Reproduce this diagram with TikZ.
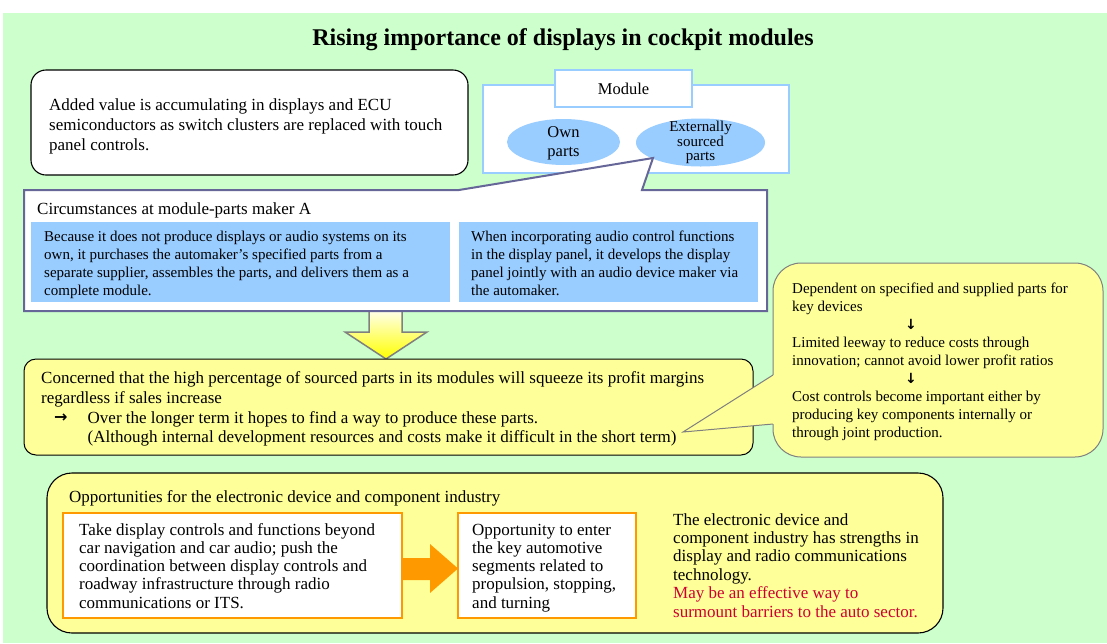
\documentclass[tikz,border=0pt]{standalone}
\usepackage{fontspec}
\setmainfont{Liberation Serif}
\newfontfamily\symfont{DejaVu Sans}
\usetikzlibrary{shapes.geometric}

\definecolor{bggreen}{HTML}{CCFFCC}
\definecolor{skyblue}{HTML}{99CCFF}
\definecolor{paleyellow}{HTML}{FFFF99}
\definecolor{boxorange}{HTML}{FF9900}
\definecolor{slate}{HTML}{666699}
\definecolor{edgegray}{HTML}{808080}
\definecolor{alertred}{HTML}{CC0033}
\definecolor{lightyellow}{HTML}{FFFFE8}
\definecolor{brightyellow}{HTML}{FFFF00}

% multi-line text whose baseline is that of its first line
\newcommand\lines[1]{\begin{tabular}[t]{@{}l@{}}#1\end{tabular}}
\newcommand\clines[1]{\begin{tabular}{@{}c@{}}#1\end{tabular}}
% heavy short arrow pointing down, used between steps
\newcommand\stepdown{\hspace*{113pt}{\symfont\bfseries\fontsize{14}{18}\selectfont ↓}}

\begin{document}
\begin{tikzpicture}[x=1pt,y=-1pt,
  txt/.style={inner sep=0pt, anchor=base west, font=\fontsize{17}{20}\selectfont},
  smalltxt/.style={inner sep=0pt, anchor=base west, font=\fontsize{15}{18}\selectfont},
  panel/.style={anchor=north west, inner sep=0pt, outer sep=0pt},
  blockarrow/.style={top color=lightyellow, bottom color=brightyellow, draw=edgegray, line width=1.5pt}
]
\useasboundingbox (0,0) rectangle (1107,643);
\fill[white] (0,0) rectangle (1107,643);
\fill[bggreen] (3,13) rectangle (1107,643);

% title
\node[anchor=base, inner sep=0pt, font=\fontsize{24}{28}\selectfont\bfseries] (title) at (563,45)
  {Rising importance of displays in cockpit modules};

% added-value statement
\node[panel, draw=black, line width=1.1pt, fill=white, rounded corners=15pt,
  minimum width=437pt, minimum height=105pt] (value) at (31,70) {};
\node[txt] (valuetext) at (49,110) {\lines{Added value is accumulating in displays and ECU\\
  semiconductors as switch clusters are replaced with touch\\panel controls.}};

% module composition
\node[panel, draw=skyblue, line width=1.2pt, fill=white, minimum width=306pt, minimum height=88pt] (module) at (483,85) {};
\node[draw=skyblue, line width=1.2pt, fill=white, inner sep=0pt, minimum width=137pt, minimum height=37pt,
  font=\fontsize{16.5}{19}\selectfont] (modlabel) at (623.5,88.5) {Module};
\node[ellipse, fill=skyblue, inner sep=0pt, minimum width=113pt, minimum height=46pt,
  font=\fontsize{16.5}{19}\selectfont] (own) at (563.5,142) {};
\node[inner sep=0pt, font=\fontsize{16.5}{19}\selectfont] (owntext) at (563.5,143.5) {\clines{Own\\parts}};
\node[ellipse, fill=skyblue, inner sep=0pt, minimum width=129pt, minimum height=48pt] (ext) at (700.5,142.5) {};
\node[inner sep=0pt, font=\fontsize{15}{14}\selectfont] (exttext) at (700.5,143) {\clines{Externally\\sourced\\parts}};

% block arrow down to the concern
\coordinate (downtip) at (386,359);
\shade[blockarrow] (369,311) -- (402,311) -- (402,332) -- (427,332) -- (downtip) -- (345,332) -- (369,332) -- cycle;

% circumstances callout
\node[panel, minimum width=743pt, minimum height=121pt] (circ) at (24,190) {};
\coordinate (circtip) at (653,158);
\draw[fill=white, draw=slate, line width=2pt, line join=miter]
  (circ.north west) -- (459,190) -- (circtip) -- (642,190) -- (circ.north east)
  -- (circ.south east) -- (circ.south west) -- cycle;
\node[txt] (circhead) at (37,214) {Circumstances at module-parts maker A};
\node[panel, fill=skyblue, minimum width=419pt, minimum height=80pt] (blueA) at (31,222) {};
\node[panel, fill=skyblue, minimum width=299pt, minimum height=80pt] (blueB) at (459,222) {};
\node[smalltxt] (blueAtext) at (44,241) {\lines{Because it does not produce displays or audio systems on its\\
  own, it purchases the automaker’s specified parts from a\\
  separate supplier, assembles the parts, and delivers them as a\\complete module.}};
\node[smalltxt] (blueBtext) at (471,241) {\lines{When incorporating audio control functions\\
  in the display panel, it develops the display\\
  panel jointly with an audio device maker via\\the automaker.}};

% concern
\node[panel, draw=black, line width=1pt, fill=paleyellow, rounded corners=12pt,
  minimum width=729pt, minimum height=96pt] (concern) at (24,359) {};
\node[txt] (concerntext) at (41,383) {\lines{Concerned that the high percentage of sourced parts in its modules will squeeze its profit margins\\
  regardless if sales increase}};
\node[txt, font=\fontsize{16}{18}\selectfont\symfont\bfseries] (concernarrow) at (54,422) {→};
\node[txt, font=\fontsize{17}{19.5}\selectfont] (hopetext) at (87.5,423) {\lines{Over the longer term it hopes to find a way to produce these parts.\\
  (Although internal development resources and costs make it difficult in the short term)}};

% dependence callout
\node[panel, draw=edgegray, line width=1pt, fill=paleyellow, rounded corners=28pt,
  minimum width=330pt, minimum height=194pt] (dep) at (773,263) {};
\coordinate (deptip) at (683,432);
\fill[paleyellow] (deptip) -- (773,375) -- (775,375) -- (775,424) -- (773,424) -- cycle;
\draw[edgegray, line width=1pt] (773,375) -- (deptip) -- (773,424);
\node[smalltxt] (deptext) at (792,293) {\lines{Dependent on specified and supplied parts for\\
  key devices\\
  \stepdown\\
  Limited leeway to reduce costs through\\
  innovation; cannot avoid lower profit ratios\\
  \stepdown\\
  Cost controls become important either by\\
  producing key components internally or\\
  through joint production.}};

% opportunities
\node[panel, draw=black, line width=1.1pt, fill=paleyellow, rounded corners=25pt,
  minimum width=896pt, minimum height=160pt] (opp) at (47,473) {};
\node[txt] (opphead) at (69,502) {Opportunities for the electronic device and component industry};
\node[panel, draw=boxorange, line width=2pt, fill=white, minimum width=339pt, minimum height=105pt] (take) at (63,513) {};
\node[panel, draw=boxorange, line width=2pt, fill=white, minimum width=178pt, minimum height=105pt] (enter) at (458,513) {};
\fill[boxorange] (take.east |- 0,558) -- (430,558) -- (430,544) -- (enter.west |- 0,568.5)
  -- (430,593) -- (430,580) -- (take.east |- 0,580) -- cycle;
\node[txt, font=\fontsize{17}{18.3}\selectfont] (taketext) at (79,535) {\lines{Take display controls and functions beyond\\
  car navigation and car audio; push the\\
  coordination between display controls and\\
  roadway infrastructure through radio\\
  communications or ITS.}};
\node[txt, font=\fontsize{17}{18.3}\selectfont] (entertext) at (472,535) {\lines{Opportunity to enter\\
  the key automotive\\
  segments related to\\
  propulsion, stopping,\\
  and turning}};
\node[txt, font=\fontsize{17}{18.4}\selectfont] (strengthtext) at (673,525) {\lines{The electronic device and\\
  component industry has strengths in\\
  display and radio communications\\
  technology.\\
  \textcolor{alertred}{May be an effective way to}\\
  \textcolor{alertred}{surmount barriers to the auto sector.}}};
\end{tikzpicture}
\end{document}
